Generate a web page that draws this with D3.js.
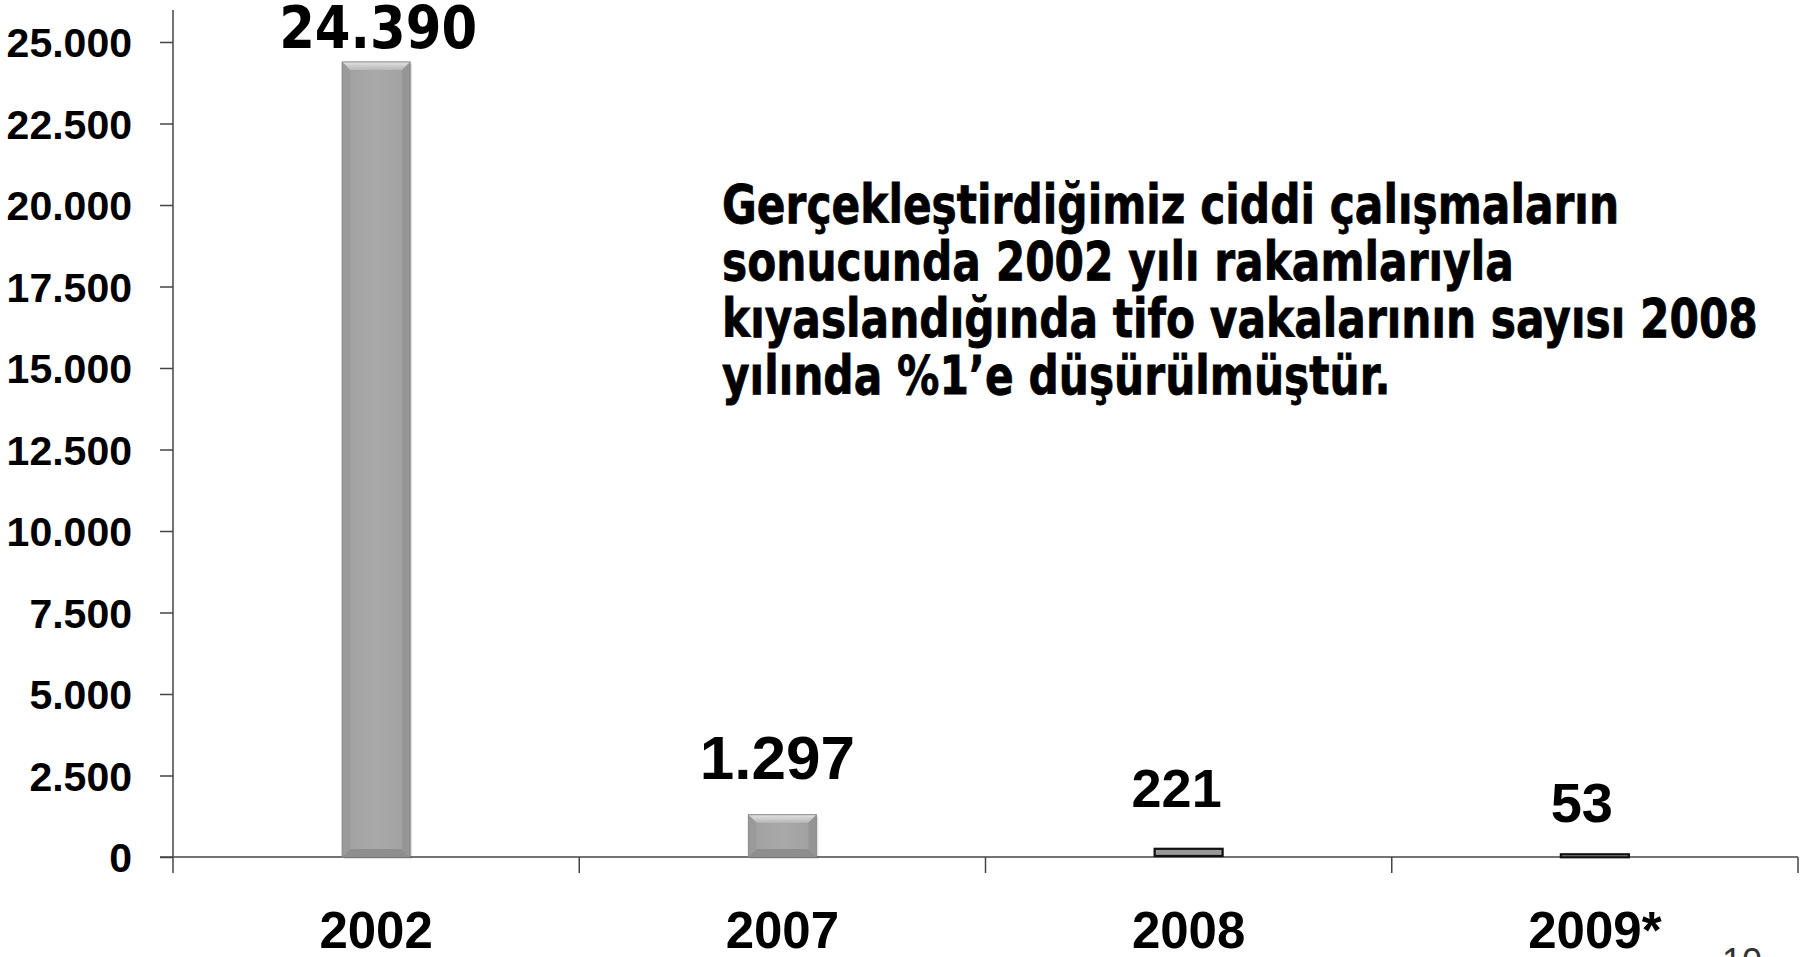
<!DOCTYPE html>
<html>
<head>
<meta charset="utf-8">
<script src="https://cdn.jsdelivr.net/npm/d3@7"></script>
<style>
  html, body { margin: 0; padding: 0; background: #fff; overflow: hidden; }
  svg { display: block; }
</style>
</head>
<body>
<div id="chart"></div>
<script>
// data
const years = ["2002", "2007", "2008", "2009*"];
const cases = [24390, 1297, 221, 53];
const valueLabels = ["24.390", "1.297", "221", "53"];
const yTicks = [0, 2500, 5000, 7500, 10000, 12500, 15000, 17500, 20000, 22500, 25000];
const yTickLabels = ["0", "2.500", "5.000", "7.500", "10.000", "12.500", "15.000", "17.500", "20.000", "22.500", "25.000"];
const noteLines = [
  "Gerçekleştirdiğimiz ciddi çalışmaların",
  "sonucunda 2002 yılı rakamlarıyla",
  "kıyaslandığında tifo vakalarının sayısı 2008",
  "yılında %1’e düşürülmüştür."
];

// label placement tweaks (the slide labels are not uniformly placed)
const labelDx = [2, -5, -12, -13];
const labelDy = [-14, -36, -43, -33];
const labelSize = [59, 62, 54, 56];

function chart() {
    const width = 1816, height = 957;
    const margin = {left: 173, right: 18, top: 42, bottom: 100};

    const svg = d3.create("svg")
        .attr("width", width)
        .attr("height", height)
        .attr("viewBox", [0, 0, width, height]);

    const x = d3.scaleBand()
        .domain(years)
        .range([margin.left, width - margin.right]);

    const y = d3.scaleLinear()
        .domain([0, 25000])
        .range([height - margin.bottom, margin.top]);

    const arial = "'Liberation Sans', Arial, sans-serif";
    const tahoma = "'DejaVu Sans', Verdana, sans-serif";

    // gradients for the bevelled bars
    const defs = svg.append("defs");
    const gTop = defs.append("linearGradient").attr("id", "bevTop").attr("x1", 0).attr("y1", 0).attr("x2", 0).attr("y2", 1);
    gTop.append("stop").attr("offset", 0).attr("stop-color", "#e2e2e2");
    gTop.append("stop").attr("offset", 1).attr("stop-color", "#b8b8b8");
    const gBody = defs.append("linearGradient").attr("id", "barBody").attr("x1", 0).attr("y1", 0).attr("x2", 1).attr("y2", 0);
    gBody.append("stop").attr("offset", 0).attr("stop-color", "#a0a0a0");
    gBody.append("stop").attr("offset", 0.5).attr("stop-color", "#a9a9a9");
    gBody.append("stop").attr("offset", 1).attr("stop-color", "#a0a0a0");

    // y axis
    const yAxis = svg.append("g")
        .attr("transform", `translate(${margin.left},0)`)
        .call(d3.axisLeft(y)
            .tickValues(yTicks)
            .tickFormat((d, i) => yTickLabels[i])
            .tickSize(13)
            .tickPadding(28));
    yAxis.select(".domain").remove();
    yAxis.selectAll(".tick line").attr("stroke", "#444").attr("stroke-width", 1.5);
    yAxis.selectAll(".tick text")
        .attr("fill", "#000")
        .attr("font-family", arial)
        .attr("font-weight", "bold")
        .attr("font-size", 41)
        .attr("dy", "0.36em");
    svg.append("line")
        .attr("x1", margin.left).attr("x2", margin.left)
        .attr("y1", 10).attr("y2", y(0) + 16)
        .attr("stroke", "#444").attr("stroke-width", 1.5);

    // x axis: ticks sit on band edges, labels in band centres
    const edges = years.map(d => x(d)).concat([x.range()[1]]);
    svg.append("line")
        .attr("x1", margin.left - 13).attr("x2", x.range()[1])
        .attr("y1", y(0)).attr("y2", y(0))
        .attr("stroke", "#444").attr("stroke-width", 1.5);
    svg.append("g").selectAll("line")
        .data(edges.slice(1))
        .join("line")
        .attr("x1", d => d).attr("x2", d => d)
        .attr("y1", y(0)).attr("y2", y(0) + 16)
        .attr("stroke", "#444").attr("stroke-width", 1.5);
    svg.append("g").selectAll("text")
        .data(years)
        .join("text")
        .attr("x", d => x(d) + x.bandwidth() / 2)
        .attr("y", 948)
        .attr("text-anchor", "middle")
        .attr("font-family", arial)
        .attr("font-weight", "bold")
        .attr("font-size", 51)
        .text(d => d);

    // bars
    const bw = 68;
    const b = 8;
    const bars = svg.append("g").selectAll("g")
        .data(cases.map((v, i) => ({year: years[i], v, i})))
        .join("g")
        .attr("transform", d => `translate(${x(d.year) + x.bandwidth() / 2 - bw / 2},${y(d.v)})`);

    bars.each(function(d) {
        const g = d3.select(this);
        const h = y(0) - y(d.v);
        if (h > 2 * b + 4) {
            g.append("rect").attr("x", 2).attr("y", 2).attr("width", bw).attr("height", h)
                .attr("fill", "#000").attr("opacity", 0.12);
            g.append("rect").attr("width", bw).attr("height", h).attr("fill", "url(#barBody)");
            g.append("polygon").attr("points", [[0, 0], [bw, 0], [bw - b, b], [b, b]].join(" "))
                .attr("fill", "url(#bevTop)");
            g.append("polygon").attr("points", [[0, h], [bw, h], [bw - b, h - b], [b, h - b]].join(" "))
                .attr("fill", "#8e8e8e");
            g.append("polygon").attr("points", [[0, 0], [b, b], [b, h - b], [0, h]].join(" "))
                .attr("fill", "#9a9a9a");
            g.append("polygon").attr("points", [[bw, 0], [bw - b, b], [bw - b, h - b], [bw, h]].join(" "))
                .attr("fill", "#959595");
            g.append("rect").attr("width", bw).attr("height", h)
                .attr("fill", "none").attr("stroke", "#8a8a8a").attr("stroke-width", 1);
        } else {
            g.append("rect").attr("x", 0).attr("y", -1).attr("width", bw).attr("height", Math.max(h, 3))
                .attr("fill", "#999").attr("stroke", "#111").attr("stroke-width", 2.2);
        }
    });

    // value labels
    svg.append("g").selectAll("text")
        .data(cases)
        .join("text")
        .attr("x", (d, i) => x(years[i]) + x.bandwidth() / 2 + labelDx[i])
        .attr("y", (d, i) => y(d) + labelDy[i])
        .attr("text-anchor", "middle")
        .attr("font-family", (d, i) => i === 0 ? tahoma : arial)
        .attr("font-weight", "bold")
        .attr("font-size", (d, i) => labelSize[i])
        .text((d, i) => valueLabels[i]);

    // the explanatory note
    const note = svg.append("g")
        .attr("font-family", tahoma)
        .attr("font-weight", "bold")
        .attr("font-size", 53);
    note.selectAll("text")
        .data(noteLines)
        .join("text")
        .attr("x", 0)
        .attr("y", (d, i) => i * 57)
        .attr("stroke", "#000")
        .attr("stroke-width", 0.8)
        .text(d => d);

    // page number, cut off by the slide edge
    svg.append("text")
        .attr("x", 1722).attr("y", 974)
        .attr("font-family", arial)
        .attr("font-size", 36)
        .attr("fill", "#333")
        .text("10");

    return {svg, note};
}

const {svg, note} = chart();
document.getElementById("chart").appendChild(svg.node());

// squeeze the Verdana-like face to the narrower Tahoma widths on the slide
const widest = note.selectAll("text").nodes()[2].getComputedTextLength();
const sx = 1036 / widest;
note.attr("transform", `translate(722,223) scale(${sx},1)`);
const big = svg.selectAll("g text").filter(function() { return this.textContent === "24.390"; });
big.each(function() {
    const w = this.getComputedTextLength();
    const s = 198 / w;
    const cx = +this.getAttribute("x");
    d3.select(this).attr("transform", `translate(${cx},0) scale(${s},1) translate(${-cx},0)`);
});
</script>
</body>
</html>
